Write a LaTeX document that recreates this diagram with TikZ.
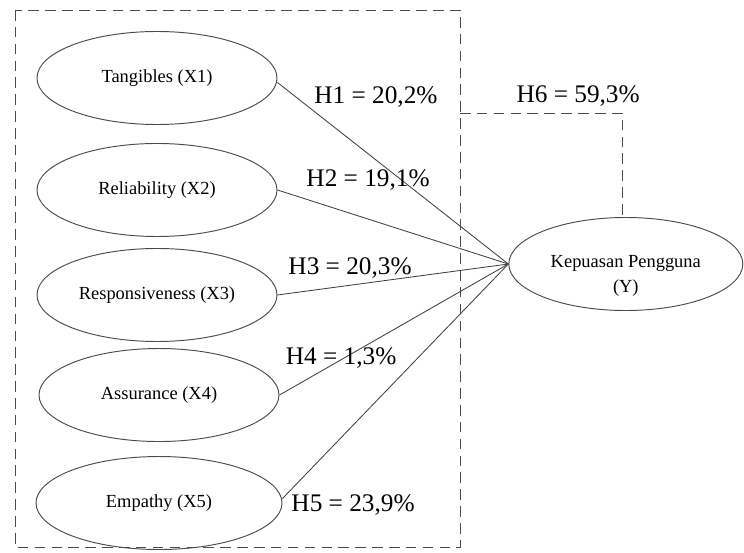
\documentclass[tikz,border=0pt]{standalone}
\usepackage{fontspec}
\setmainfont{Liberation Serif}
\usetikzlibrary{positioning,shapes.geometric}

\begin{document}
\begin{tikzpicture}[
    var/.style={draw=black!70, line width=0.9pt, ellipse, minimum width=8cm,
                minimum height=3.1cm, inner sep=0pt, align=center,
                font=\fontsize{17.5}{24}\selectfont},
    link/.style={draw=black!75, line width=0.8pt},
    grp/.style={draw=black!70, line width=0.9pt, dash pattern=on 10pt off 6pt},
    lbl/.style={font=\fontsize{24}{28}\selectfont, inner sep=1pt},
  ]
  \useasboundingbox (0,0) rectangle (24.8,-18.433);

  % Dashed group around X1..X5
  \draw[grp] (0.5,-0.333) rectangle (15.333,-18.233);

  % Independent variables
  \node[var] (x1) at (5.233,-2.6) {Tangibles (X1)};
  \node[var] (x2) at (5.233,-6.333) {Reliability (X2)};
  \node[var] (x3) at (5.233,-9.833) {Responsiveness (X3)};
  \node[var] (x4) at (5.3,-13.167) {Assurance (X4)};
  \node[var, minimum width=8.2cm] (x5) at (5.3,-16.767) {Empathy (X5)};

  % Dependent variable
  \node[var, minimum width=7.8cm] (y) at (20.86,-8.8)
    {\rule{0pt}{1.2cm}Kepuasan Pengguna\\(Y)};

  % Partial effects
  \draw[link] ([yshift=-0.15cm]x1.east) -- (y.west);
  \draw[link] (x2.east) -- (y.west);
  \draw[link] (x3.east) -- (y.west);
  \draw[link] (x4.east) -- (y.west);
  \draw[link] ([yshift=0.15cm]x5.east) -- (y.west);

  \node[lbl] (h1) at (12.53,-3.23) {H1 = 20,2\%};
  \node[lbl] (h2) at (12.27,-6.0) {H2 = 19,1\%};
  \node[lbl] (h3) at (11.67,-8.93) {H3 = 20,3\%};
  \node[lbl] (h4) at (11.37,-11.93) {H4 = 1,3\%};
  \node[lbl] (h5) at (11.77,-16.83) {H5 = 23,9\%};

  % Simultaneous effect
  \coordinate (g) at (15.333,-3.767);
  \coordinate (c) at (20.733,-3.767);
  \draw[grp] (g) -- (c) -- (c |- y.north);
  \node[lbl] (h6) at (19.27,-3.2) {H6 = 59,3\%};
\end{tikzpicture}
\end{document}
